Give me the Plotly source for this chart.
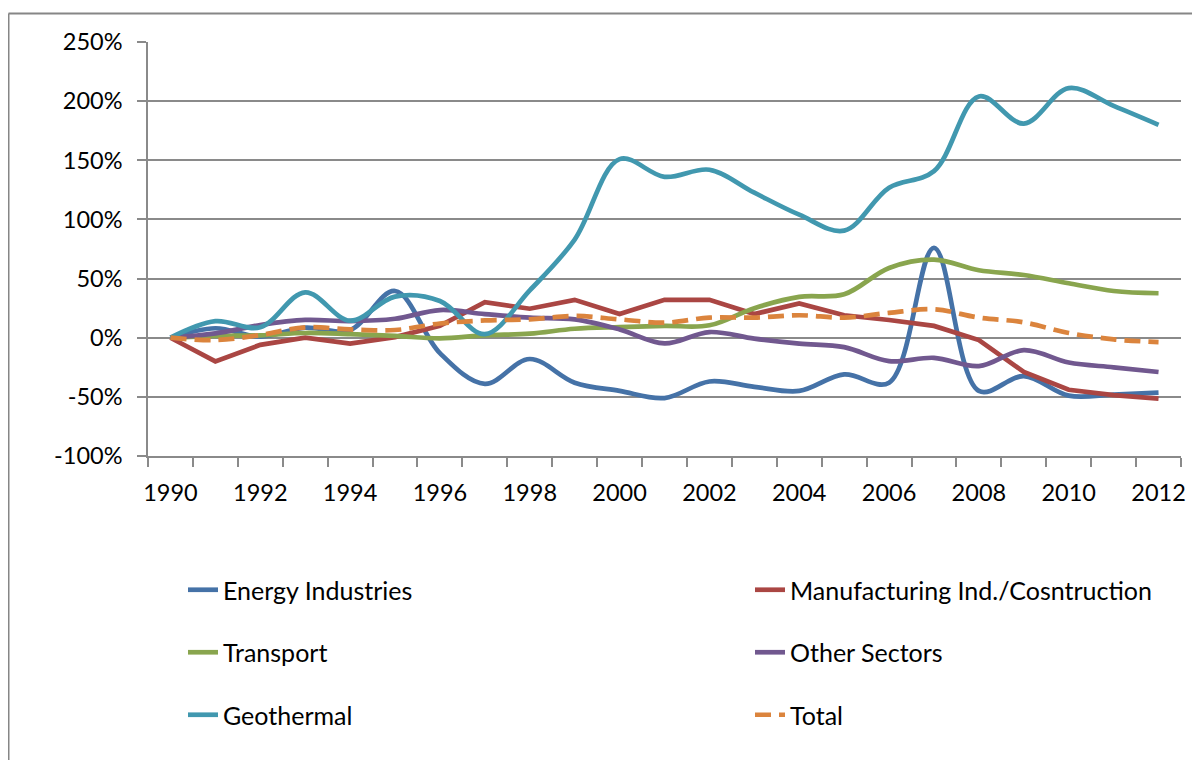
import plotly.graph_objects as go

years = list(range(1990, 2013))
tick_years = list(range(1990, 2013, 2))
y_ticks = [-100, -50, 0, 50, 100, 150, 200, 250]
y_labels = ["-100%", "-50%", "0%", "50%", "100%", "150%", "200%", "250%"]

energy = [0, 8, 1, 8.5, 6.5, 39.5, -13, -39, -18, -38, -45, -51, -37, -41.5, -45, -31, -38, 76, -45, -32.5, -49, -48, -46.5]
manufacturing = [0, -20, -6, 0, -5, 0.5, 10, 30, 24.5, 32, 20, 32, 32, 20, 29, 19, 15, 10, -2, -29, -44, -48.5, -51.5]
transport = [0, 1.5, 2, 4, 3, 1.5, -0.5, 2, 3.4, 7.6, 9, 10, 10.5, 25, 34.5, 36.7, 59, 66, 57, 53, 46, 39.5, 37.6]
other = [0, 3.7, 10.7, 15, 14, 16, 23.4, 20, 17, 15.5, 7, -4.8, 4.8, -0.8, -5, -8, -19.8, -17, -24, -10.5, -21, -25, -29]
geothermal = [0, 14, 8.8, 38.4, 14.4, 34.7, 31, 3, 40, 83, 151, 136, 142, 122.6, 104, 90.5, 126.8, 140.8, 204, 181, 211, 196, 180]
total = [0, -2, 2.3, 8.8, 7, 6.5, 12, 14.6, 15.5, 18.4, 15.5, 12.7, 17, 17, 19, 17, 21, 24, 17, 13, 4, -1.4, -3.7]

series = [
    ("Energy Industries", energy, "#4572A7", "spline", "solid", "legend"),
    ("Manufacturing Ind./Cosntruction", manufacturing, "#AA4643", "linear", "solid", "legend2"),
    ("Transport", transport, "#89A54E", "spline", "solid", "legend"),
    ("Other Sectors", other, "#71588F", "spline", "solid", "legend2"),
    ("Geothermal", geothermal, "#4198AF", "spline", "solid", "legend"),
    ("Total", total, "#DB843D", "spline", "16px,8px", "legend2"),
]

fig = go.Figure()
for name, vals, color, shape, dash, leg in series:
    fig.add_trace(go.Scatter(
        x=years, y=vals, name=name, mode="lines",
        line=dict(color=color, width=4.7, shape=shape, smoothing=1.0, dash=dash),
        legend=leg, legendgroup=name,
    ))

GRID = "#8a8a8a"
FONT = "Lato"

# page body has an 8px margin; work in page pixel coordinates
OFF = 8
W, H = 1192, 752
pl, pr, pt, pb = 148, 1181, 42, 456   # plot area in page pixels
ml, mt = pl - OFF, pt - OFF
mr = W - (pr - OFF)
mb = H - (pb - OFF)
pw, ph = pr - pl, pb - pt

def px_x(x):
    return (x - pl) / pw

def px_y(y):
    return (pb - y) / ph

leg_common = dict(
    yanchor="top", xanchor="left", orientation="v", tracegroupgap=27,
    font=dict(size=25, family=FONT, color="#000000"),
    bgcolor="rgba(0,0,0,0)", itemwidth=30,
)

fig.update_layout(
    width=W, height=H,
    margin=dict(l=ml, r=mr, t=mt, b=mb),
    paper_bgcolor="white", plot_bgcolor="white",
    font=dict(family=FONT, size=23.5, color="#000000"),
    showlegend=True,
    legend=dict(x=px_x(183), y=px_y(567), **leg_common),
    legend2=dict(x=px_x(750), y=px_y(567), **leg_common),
    xaxis=dict(
        range=[1989.5, 2012.5], tickmode="array", tickvals=tick_years,
        ticktext=[str(t) for t in tick_years], ticks="",
        showgrid=False, zeroline=False, showline=True, linecolor=GRID, linewidth=1.5,
        tickfont=dict(size=23.5, family=FONT), ticklabelstandoff=15,
        minor=dict(tick0=1989.5, dtick=1, ticks="outside", ticklen=9,
                   tickcolor=GRID, tickwidth=1.5, showgrid=False),
    ),
    yaxis=dict(
        range=[-100, 250], tickmode="array", tickvals=y_ticks, ticktext=y_labels,
        ticks="outside", ticklen=9, tickcolor=GRID, tickwidth=1.5,
        showgrid=True, gridcolor=GRID, gridwidth=1.5, ticklabelstandoff=10,
        zeroline=False, showline=True, linecolor=GRID, linewidth=1.5,
        tickfont=dict(size=23.5, family=FONT),
    ),
    shapes=[
        dict(type="line", xref="paper", yref="paper",
             x0=px_x(8.5), x1=px_x(8.5), y0=px_y(13.5), y1=px_y(800),
             line=dict(color="#868686", width=2)),
        dict(type="line", xref="paper", yref="paper",
             x0=px_x(8.5), x1=px_x(1240), y0=px_y(13.5), y1=px_y(13.5),
             line=dict(color="#868686", width=2)),
    ],
)

fig.write_html("out.html")
